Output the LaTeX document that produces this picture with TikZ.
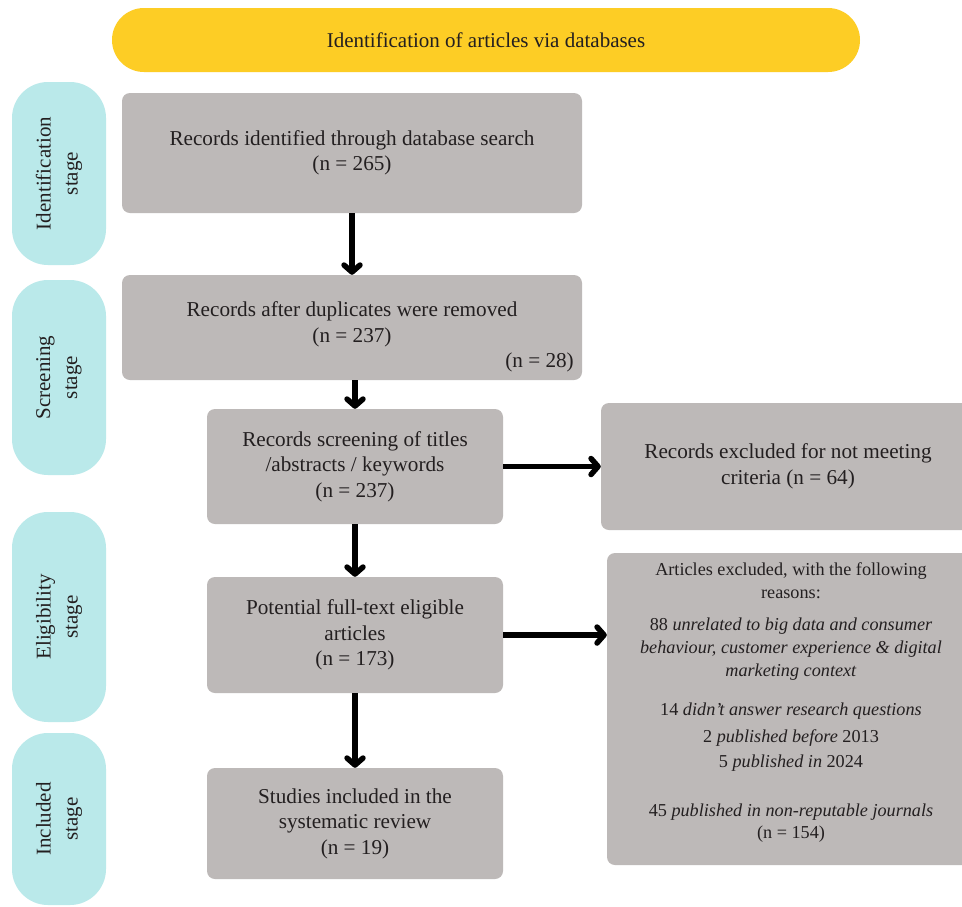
\documentclass[tikz,border=0pt]{standalone}
\usepackage{fontspec}
\setmainfont{Liberation Serif}
\usetikzlibrary{arrows.meta}
\definecolor{boxgray}{HTML}{BDB9B8}
\definecolor{stagecyan}{HTML}{BAE9EA}
\definecolor{headyellow}{HTML}{FDCD25}
\definecolor{ink}{HTML}{231F20}
\tikzset{
  graybox/.style={fill=boxgray, draw=none, rounded corners=8pt, align=center, text=ink,
    font=\fontsize{21.2}{25.5}\selectfont, inner sep=0pt},
  stagebox/.style={fill=stagecyan, draw=none, rounded corners=36pt, minimum width=94pt, inner sep=0pt},
  stagetext/.style={rotate=90, align=center, text=ink, font=\fontsize{21}{27}\selectfont},
  flowarrow/.style={line width=5.5pt, -{Straight Barb[length=7pt,width=16pt,round]}, black},
}
\begin{document}
\begin{tikzpicture}[x=1pt,y=-1pt]
\clip (0,0) rectangle (962,906);
\fill[white] (0,0) rectangle (962,906);
% header
\node[fill=headyellow, rounded corners=32pt, minimum width=748pt, minimum height=64pt, inner sep=0pt,
  text=ink, font=\fontsize{21}{25}\selectfont] (head) at (486,40) {Identification of articles via databases};
% stages
\node[stagebox, minimum height=183pt] (s1) at (59,173.5) {};
\node[stagetext] (s1t) at (s1) {Identification\\stage};
\node[stagebox, minimum height=195pt] (s2) at (59,377.5) {};
\node[stagetext] (s2t) at (s2) {Screening\\stage};
\node[stagebox, minimum height=210pt] (s3) at (59,617) {};
\node[stagetext] (s3t) at (s3) {Eligibility\\stage};
\node[stagebox, minimum height=172pt] (s4) at (59,819) {};
\node[stagetext] (s4t) at (s4) {Included\\stage};
% boxes
\node[graybox, minimum width=460pt, minimum height=120pt] (b1) at (352,153)
  {Records identified through database search\\(n = 265)};
\node[graybox, minimum width=460pt, minimum height=105pt] (b2) at (352,327.5) {};
\node[text=ink, font=\fontsize{21.2}{25.5}\selectfont, align=center] (b2t) at (352,324.5)
  {Records after duplicates were removed\\(n = 237)};
\node[text=ink, font=\fontsize{21.2}{25.5}\selectfont, anchor=east, inner sep=0pt] (b2n) at (574,362) {(n = 28)};
\node[graybox, minimum width=296pt, minimum height=115pt] (b3) at (355,466.5)
  {Records screening of titles\\/abstracts / keywords\\(n = 237)};
\node[graybox, minimum width=374pt, minimum height=127pt] (b4) at (788,466.5)
  {Records excluded for not meeting\\criteria (n = 64)};
\node[graybox, minimum width=296pt, minimum height=116pt] (b5) at (355,635)
  {Potential full-text eligible\\articles\\(n = 173)};
\node[graybox, minimum width=368pt, minimum height=312pt] (b6) at (791,709) {};
\node[text=ink, font=\fontsize{18.2}{23}\selectfont, align=center, anchor=north, inner sep=0pt] (b6t) at (791,562)
  {Articles excluded, with the following\\reasons:\\[9pt]
   88 \textit{unrelated to big data and consumer}\\
   \textit{behaviour, customer experience \& digital}\\
   \textit{marketing context}\\[16pt]
   14 \textit{didn't answer research questions}\\[4pt]
   2 \textit{published before} 2013\\[2pt]
   5 \textit{published in} 2024\\[26pt]
   45 \textit{published in non-reputable journals}\\[-1pt]
   (n = 154)};
\node[graybox, minimum width=296pt, minimum height=111pt] (b7) at (355,823.5)
  {Studies included in the\\systematic review\\(n = 19)};
% arrows
\draw[flowarrow] (b1.south) -- (b2.north);
\draw[flowarrow] (b3.north |- b2.south) -- (b3.north);
\draw[flowarrow] (b3.south) -- (b5.north);
\draw[flowarrow] (b5.south) -- (b7.north);
\draw[flowarrow] (b3.east) -- (b4.west);
\draw[flowarrow] (b5.east) -- (b6.west |- b5.east);
\end{tikzpicture}
\end{document}
